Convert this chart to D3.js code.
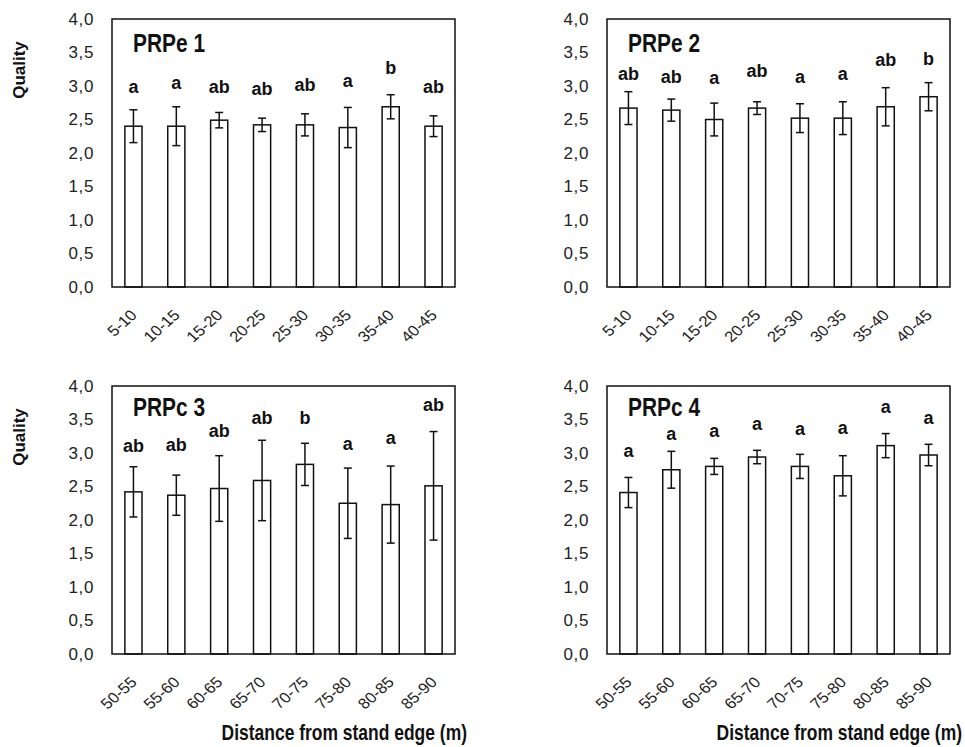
<!DOCTYPE html>
<html>
<head>
<meta charset="utf-8">
<script src="https://cdn.jsdelivr.net/npm/d3@7"></script>
<style>
  html, body { margin: 0; padding: 0; background: #fff; }
  svg { display: block; }
</style>
</head>
<body>
<svg id="chart" width="965" height="747"></svg>
<script>
// ---------------- DATA ----------------
const categoriesTop = ["5-10", "10-15", "15-20", "20-25", "25-30", "30-35", "35-40", "40-45"];
const categoriesBottom = ["50-55", "55-60", "60-65", "65-70", "70-75", "75-80", "80-85", "85-90"];
const panelTitles = ["PRPe 1", "PRPe 2", "PRPc 3", "PRPc 4"];
const yTickValues = [0, 0.5, 1, 1.5, 2, 2.5, 3, 3.5, 4];
const yAxisTitle = "Quality";
const xAxisTitle = "Distance from stand edge (m)";

// PRPe 1
const meansP1 = [2.40, 2.40, 2.49, 2.42, 2.42, 2.38, 2.69, 2.40];
const errP1 = [0.245, 0.29, 0.115, 0.10, 0.165, 0.30, 0.18, 0.155];
const lettersP1 = ["a", "a", "ab", "ab", "ab", "a", "b", "ab"];
const letterYP1 = [2.90, 2.95, 2.89, 2.86, 2.92, 2.98, 3.18, 2.89];

// PRPe 2
const meansP2 = [2.67, 2.64, 2.50, 2.67, 2.52, 2.52, 2.69, 2.84];
const errP2 = [0.245, 0.165, 0.245, 0.095, 0.215, 0.245, 0.285, 0.21];
const lettersP2 = ["ab", "ab", "a", "ab", "a", "a", "ab", "b"];
const letterYP2 = [3.09, 3.04, 3.03, 3.13, 3.04, 3.09, 3.30, 3.32];

// PRPc 3
const meansP3 = [2.42, 2.37, 2.47, 2.59, 2.83, 2.25, 2.23, 2.51];
const errP3 = [0.375, 0.30, 0.49, 0.60, 0.315, 0.525, 0.575, 0.81];
const lettersP3 = ["ab", "ab", "ab", "ab", "b", "a", "a", "ab"];
const letterYP3 = [3.01, 3.03, 3.24, 3.43, 3.44, 3.04, 3.14, 3.63];

// PRPc 4
const meansP4 = [2.41, 2.75, 2.80, 2.94, 2.80, 2.66, 3.11, 2.97];
const errP4 = [0.225, 0.275, 0.12, 0.10, 0.18, 0.30, 0.18, 0.16];
const lettersP4 = ["a", "a", "a", "a", "a", "a", "a", "a"];
const letterYP4 = [2.94, 3.19, 3.24, 3.35, 3.27, 3.29, 3.60, 3.43];

// ---------------- LAYOUT ----------------
const svg = d3.select("#chart");
const FONT = "'Liberation Sans', Arial, sans-serif";
const plotW = 343, plotH = 268;
const panels = [
  { left: 112, top: 19, cats: categoriesTop, means: meansP1, err: errP1, letters: lettersP1, ly: letterYP1, title: panelTitles[0], yTitle: true, xTitle: false },
  { left: 607, top: 19, cats: categoriesTop, means: meansP2, err: errP2, letters: lettersP2, ly: letterYP2, title: panelTitles[1], yTitle: false, xTitle: false },
  { left: 112, top: 386, cats: categoriesBottom, means: meansP3, err: errP3, letters: lettersP3, ly: letterYP3, title: panelTitles[2], yTitle: true, xTitle: true },
  { left: 607, top: 386, cats: categoriesBottom, means: meansP4, err: errP4, letters: lettersP4, ly: letterYP4, title: panelTitles[3], yTitle: false, xTitle: true }
];

const fmt = v => d3.format(".1f")(v).replace(".", ",");

panels.forEach(p => {
  const g = svg.append("g").attr("transform", `translate(${p.left},${p.top})`);
  const x = d3.scaleBand().domain(p.cats).range([0, plotW]).paddingInner(0.6).paddingOuter(0.3);
  const y = d3.scaleLinear().domain([0, 4]).range([plotH, 0]);

  // Y axis (labels only)
  const yAxis = g.append("g").call(d3.axisLeft(y).tickValues(yTickValues).tickFormat(fmt).tickSize(0).tickPadding(18));
  yAxis.select(".domain").remove();
  yAxis.selectAll("text").attr("font-family", FONT).attr("font-size", 17).attr("fill", "#222").attr("letter-spacing", 0.6);

  // X axis (rotated labels)
  const xAxis = g.append("g").attr("transform", `translate(0,${plotH})`)
    .call(d3.axisBottom(x).tickSize(0).tickPadding(0));
  xAxis.select(".domain").remove();
  xAxis.selectAll("text")
    .attr("font-family", FONT).attr("font-size", 15).attr("fill", "#222")
    .attr("text-anchor", "end")
    .attr("dy", null).attr("y", null)
    .attr("transform", "translate(4.5,29) scale(1.12,1) rotate(-45)");

  // bars
  g.selectAll("rect.bar").data(p.means).join("rect")
    .attr("class", "bar")
    .attr("x", (d, i) => x(p.cats[i]))
    .attr("width", x.bandwidth())
    .attr("y", d => y(d))
    .attr("height", d => plotH - y(d))
    .attr("fill", "#fff").attr("stroke", "#111").attr("stroke-width", 1.5);

  // error bars
  const cap = 4;
  const eb = g.selectAll("g.err").data(p.means).join("g").attr("class", "err")
    .attr("stroke", "#111").attr("stroke-width", 1.5);
  eb.append("line")
    .attr("x1", (d, i) => x(p.cats[i]) + x.bandwidth() / 2)
    .attr("x2", (d, i) => x(p.cats[i]) + x.bandwidth() / 2)
    .attr("y1", (d, i) => y(d - p.err[i]))
    .attr("y2", (d, i) => y(d + p.err[i]));
  eb.append("line")
    .attr("x1", (d, i) => x(p.cats[i]) + x.bandwidth() / 2 - cap)
    .attr("x2", (d, i) => x(p.cats[i]) + x.bandwidth() / 2 + cap)
    .attr("y1", (d, i) => y(d + p.err[i]))
    .attr("y2", (d, i) => y(d + p.err[i]));
  eb.append("line")
    .attr("x1", (d, i) => x(p.cats[i]) + x.bandwidth() / 2 - cap)
    .attr("x2", (d, i) => x(p.cats[i]) + x.bandwidth() / 2 + cap)
    .attr("y1", (d, i) => y(d - p.err[i]))
    .attr("y2", (d, i) => y(d - p.err[i]));

  // significance letters
  g.selectAll("text.letter").data(p.letters).join("text")
    .attr("class", "letter")
    .attr("x", (d, i) => x(p.cats[i]) + x.bandwidth() / 2)
    .attr("y", (d, i) => y(p.ly[i]))
    .attr("text-anchor", "middle")
    .attr("font-family", FONT).attr("font-weight", "bold").attr("font-size", 18).attr("fill", "#111")
    .text(d => d);

  // frame
  g.append("rect").attr("x", 0).attr("y", 0).attr("width", plotW).attr("height", plotH)
    .attr("fill", "none").attr("stroke", "#111").attr("stroke-width", 1.5);

  // panel title (condensed bold)
  g.append("g").attr("transform", `translate(21,${p.top < 100 ? 33 : 30}) scale(0.82,1)`)
    .append("text")
    .attr("font-family", FONT).attr("font-weight", "bold").attr("font-size", 25.5).attr("fill", "#111")
    .text(p.title);

  if (p.yTitle) {
    svg.append("text")
      .attr("transform", `translate(25,${p.top + 51}) rotate(-90)`)
      .attr("text-anchor", "middle")
      .attr("font-family", FONT).attr("font-weight", "bold").attr("font-size", 17).attr("fill", "#111")
      .text(yAxisTitle);
  }
  if (p.xTitle) {
    svg.append("g").attr("transform", `translate(${p.left + plotW + 12},740) scale(0.82,1)`)
      .append("text")
      .attr("text-anchor", "end")
      .attr("font-family", FONT).attr("font-weight", "bold").attr("font-size", 21.3).attr("fill", "#111")
      .text(xAxisTitle);
  }
});
</script>
</body>
</html>
